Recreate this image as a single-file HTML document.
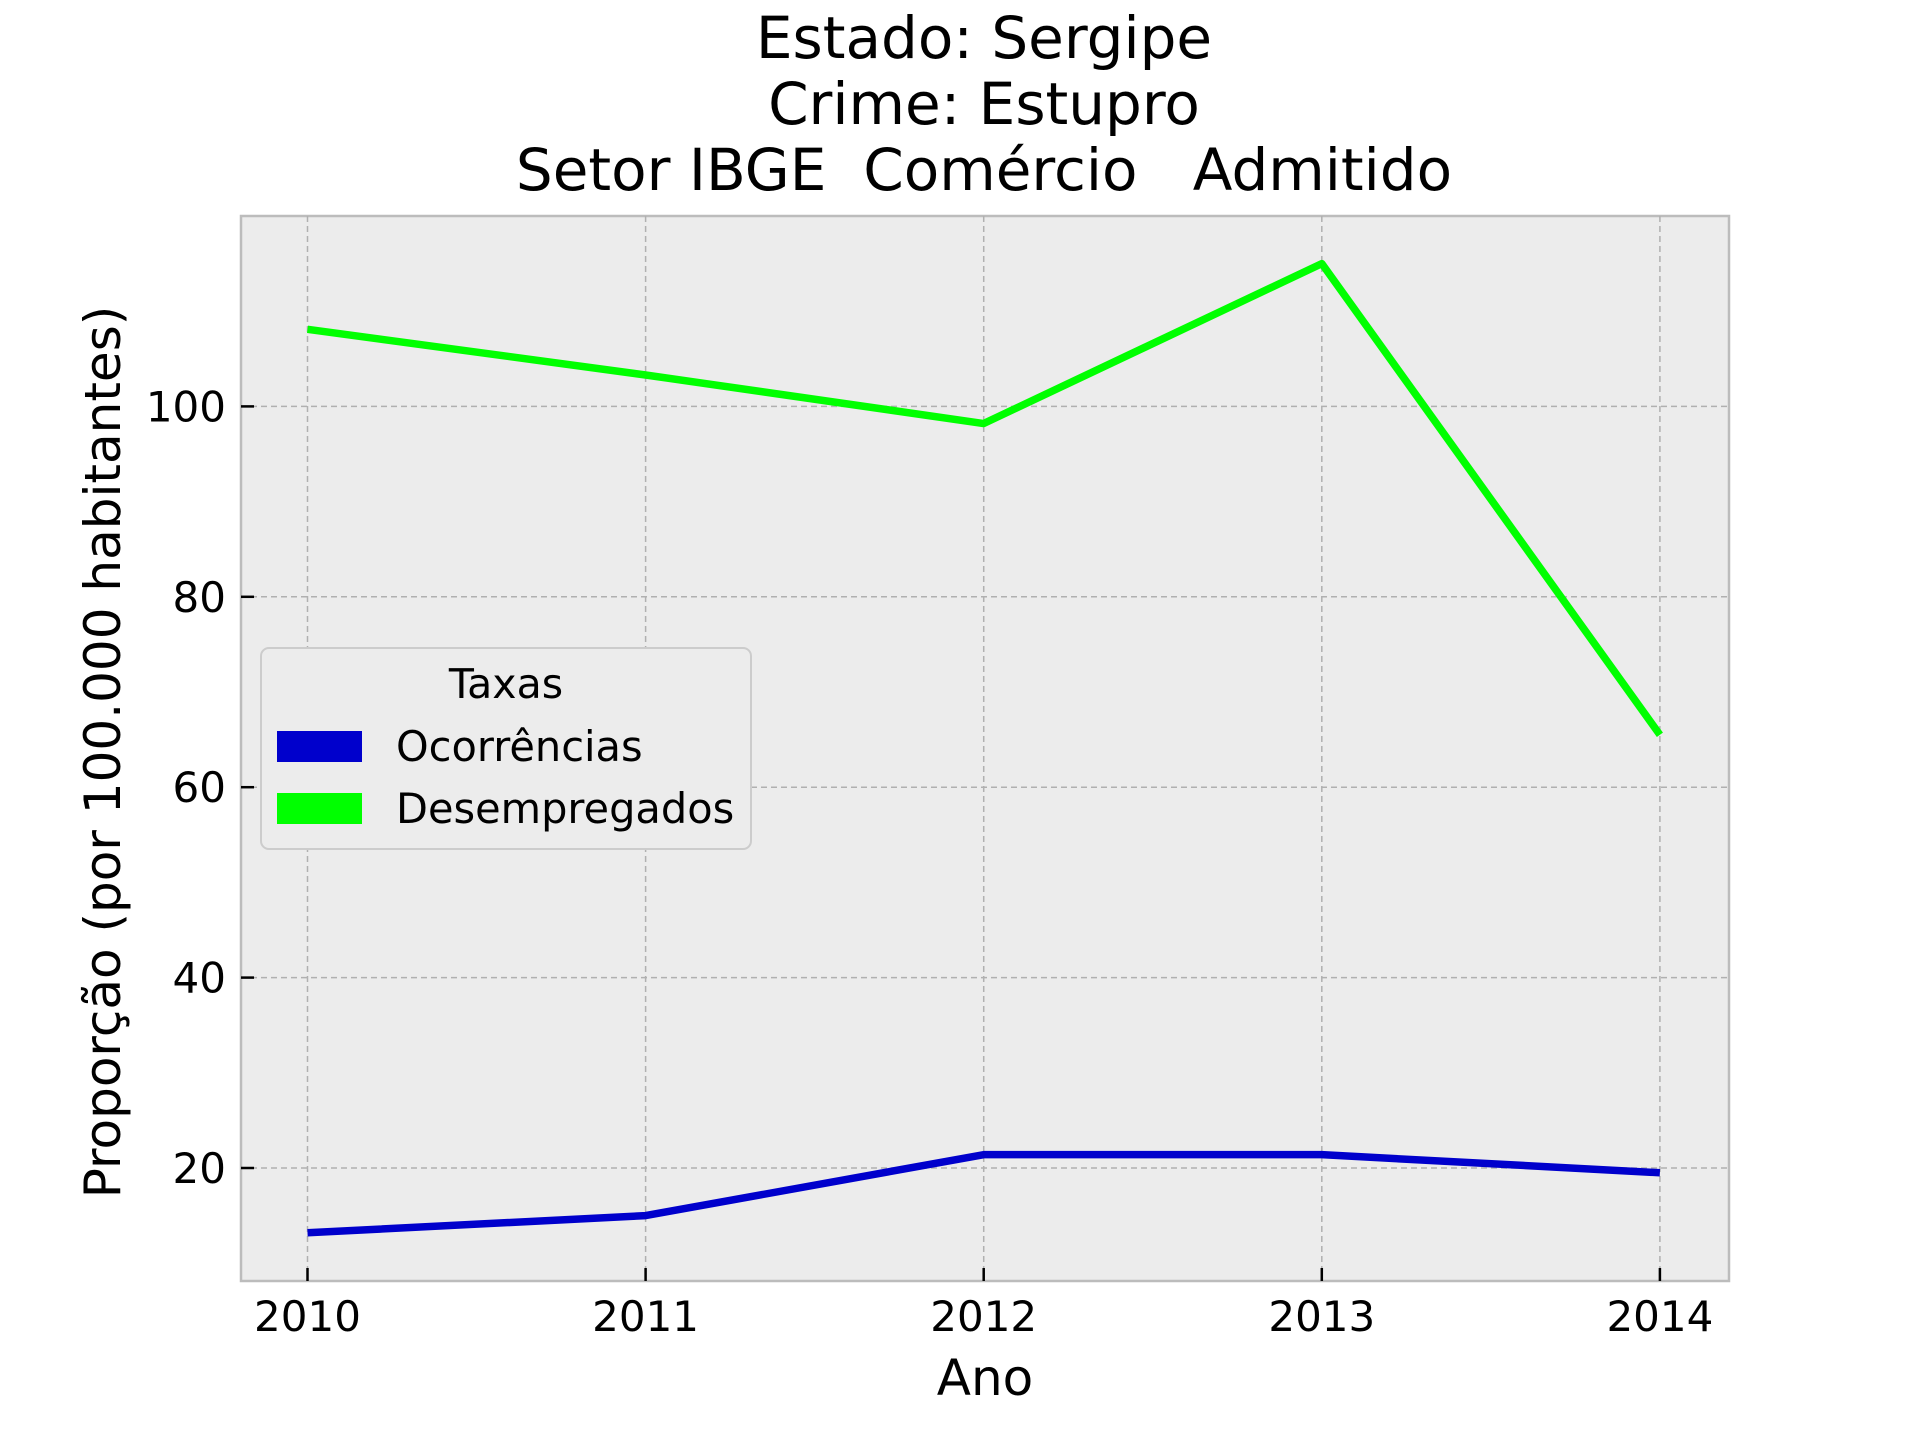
<!DOCTYPE html>
<html><head><meta charset="utf-8"><style>
body{margin:0;background:#fff}
svg text{font-family:"DejaVu Sans","Liberation Sans",sans-serif;fill:#000}
</style></head><body>
<svg width="1920" height="1440" viewBox="0 0 1920 1440" xmlns="http://www.w3.org/2000/svg" id="chart">
<g>
<text x="984" y="58" font-size="58" text-anchor="middle">Estado: Sergipe</text>
<text x="984" y="124" font-size="58" text-anchor="middle">Crime: Estupro</text>
<text x="984" y="190" font-size="58" text-anchor="middle" xml:space="preserve">Setor IBGE  Comércio   Admitido</text>
</g>
<rect x="241" y="216" width="1488" height="1065" fill="#ececec" stroke="#bcbcbc" stroke-width="2.5"/>
<g id="grid"></g>
<g id="ticks"></g>
<g id="series"></g>
<text x="985" y="1395" font-size="50" text-anchor="middle">Ano</text>
<text transform="translate(120,752) rotate(-90)" font-size="50" text-anchor="middle">Proporção (por 100.000 habitantes)</text>
<g>
<rect x="261" y="648" width="490" height="201" rx="8" fill="#ececec" stroke="#cccccc" stroke-width="2"/>
<text x="506" y="698" font-size="41" text-anchor="middle">Taxas</text>
<rect x="277" y="731" width="85" height="31" fill="#0000cc"/>
<text x="396" y="761" font-size="41.5">Ocorrências</text>
<rect x="277" y="793" width="85" height="31" fill="#00ff00"/>
<text x="396" y="823" font-size="41.5">Desempregados</text>
</g>
</svg>
<script>
const years = [2010, 2011, 2012, 2013, 2014];
const yTicks = [20, 40, 60, 80, 100];
const ocorrencias = [13.2, 15.0, 21.4, 21.4, 19.5];
const desempregados = [108.1, 103.3, 98.2, 115.0, 65.5];

const NS = "http://www.w3.org/2000/svg";
const xScale = y => 307.5 + (y - 2010) * 338.1;
const yScale = v => 1358.4 - v * 9.52;
function mk(tag, attrs, parent){const e=document.createElementNS(NS,tag);for(const k in attrs)e.setAttribute(k,attrs[k]);parent.appendChild(e);return e;}
const grid=document.getElementById('grid'), ticks=document.getElementById('ticks'), series=document.getElementById('series');
years.forEach(yr=>{
  const x=xScale(yr);
  const g=mk('line',{x1:x,x2:x,y1:216,y2:1281,stroke:'#b0b0b0','stroke-width':1.5,'stroke-dasharray':'6,4'},grid);
  
  
  const t=mk('line',{x1:x,x2:x,y1:1281,y2:1268,stroke:'#000','stroke-width':2.5},ticks);
  
  
  const l=mk('text',{x:x,y:1331,'font-size':42,'text-anchor':'middle'},ticks);
  l.textContent=yr;
  
  
});
yTicks.forEach(v=>{
  const y=yScale(v);
  const g=mk('line',{x1:241,x2:1729,y1:y,y2:y,stroke:'#b0b0b0','stroke-width':1.5,'stroke-dasharray':'6,4'},grid);
  
  
  const t=mk('line',{x1:241,x2:254,y1:y,y2:y,stroke:'#000','stroke-width':2.5},ticks);
  
  
  const l=mk('text',{x:226,y:y+15,'font-size':42,'text-anchor':'end'},ticks);
  l.textContent=v;
  
  
});
function line(vals,color,name){
  const p=mk('polyline',{points:vals.map((v,i)=>xScale(years[i])+','+yScale(v)).join(' '),fill:'none',stroke:color,'stroke-width':7.5,'stroke-linejoin':'round'},series);
  
  
}
line(desempregados,'#00ff00','line-desempregados');
line(ocorrencias,'#0000cc','line-ocorrencias');
</script>
</body></html>
